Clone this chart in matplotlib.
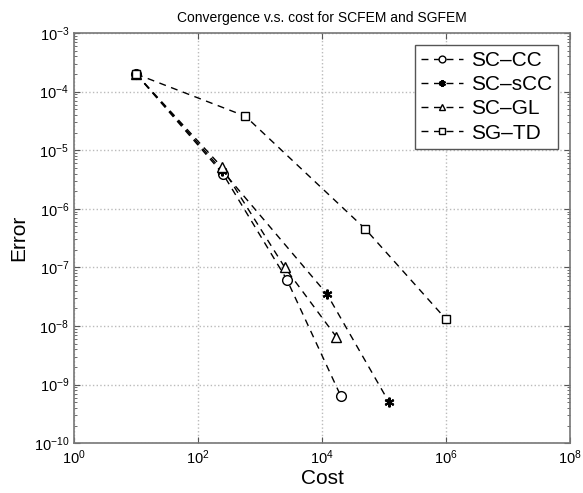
import numpy as np
import matplotlib
matplotlib.use('Agg')
from matplotlib import pyplot as plt
from matplotlib.ticker import NullLocator

plt.rcParams['font.family'] = ['Liberation Sans', 'DejaVu Sans']
plt.rcParams['mathtext.fontset'] = 'custom'
plt.rcParams['mathtext.rm'] = 'Liberation Sans'

# data
cost_cc = [10, 250, 2.7e3, 2.0e4]
err_cc = [2.0e-4, 4.0e-6, 6.2e-8, 6.4e-10]

cost_scc = [10, 245, 1.2e4, 1.2e5]
err_scc = [2.0e-4, 4.5e-6, 3.5e-8, 5.0e-10]

cost_gl = [10, 240, 2.5e3, 1.7e4]
err_gl = [2.0e-4, 5.2e-6, 1.0e-7, 6.5e-9]

cost_td = [10, 580, 4.9e4, 1.0e6]
err_td = [2.0e-4, 3.8e-5, 4.6e-7, 1.3e-8]

labels = ['SC\u2013CC', 'SC\u2013sCC', 'SC\u2013GL', 'SG\u2013TD']

fig = plt.figure(figsize=(5.83, 4.93), dpi=100)
ax = fig.add_axes([0.127, 0.101, 0.851, 0.832])

dash = (5, 4)
ax.loglog(cost_cc, err_cc, 'k--', dashes=dash, marker='o', mfc='white', mec='black', ms=7, lw=1, label=labels[0])
ax.loglog(cost_scc, err_scc, 'k--', dashes=dash, marker=(6, 2, 0), mfc='black', mec='black', mew=1.5, ms=7, lw=1, label=labels[1])
ax.loglog(cost_gl, err_gl, 'k--', dashes=dash, marker='^', mfc='white', mec='black', ms=7, lw=1, label=labels[2])
ax.loglog(cost_td, err_td, 'k--', dashes=dash, marker='s', mfc='white', mec='black', ms=6, lw=1, label=labels[3])

ax.set_xlim(1e0, 1e8)
ax.set_ylim(1e-10, 1e-3)
ax.set_xticks([1e0, 1e2, 1e4, 1e6, 1e8])
ax.xaxis.set_minor_locator(NullLocator())
ax.set_yticks([10.0 ** k for k in range(-10, -2)])

ax.grid(True, which='major', linestyle=':', color='#bbbbbb', lw=1)
ax.tick_params(which='both', direction='in', top=True, right=True, labelsize=10.5, colors='#555555')
ax.tick_params(which='major', length=4)
ax.tick_params(which='minor', length=2)
for sp in ax.spines.values():
    sp.set_color('#777777')
    sp.set_linewidth(1.2)
ax.tick_params(labelcolor='black')

ax.set_xlabel('Cost', fontsize=15, labelpad=2)
ax.set_ylabel('Error', fontsize=15, labelpad=4)
ax.set_title('Convergence v.s. cost for SCFEM and SGFEM', fontsize=10, pad=8)

leg = ax.legend(loc='upper right', fontsize=15, handlelength=2.0, borderpad=0.3,
                labelspacing=0.25, handletextpad=0.4, fancybox=False, framealpha=1,
                markerscale=0.7, bbox_to_anchor=(0.997, 0.997))
leg.get_frame().set_edgecolor('#555555')
leg.get_frame().set_linewidth(1)

plt.savefig('out.png', dpi=100)
